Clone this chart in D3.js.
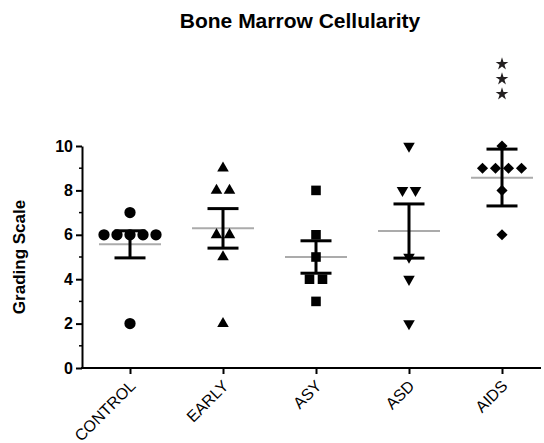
<!DOCTYPE html>
<html>
<head>
<meta charset="utf-8">
<script src="https://cdn.jsdelivr.net/npm/d3@7"></script>
<style>
  html, body { margin: 0; padding: 0; background: #fff; }
  svg { display: block; font-family: "Liberation Sans", Arial, sans-serif; }
</style>
</head>
<body>
<svg id="chart" width="544" height="443"></svg>
<script>
// ---- data ----
const categories = ["CONTROL", "EARLY", "ASY", "ASD", "AIDS"];
const controlValues = [7, 6, 6, 6, 6, 6, 2];
const earlyValues   = [9, 8, 8, 6, 6, 5, 2];
const asyValues     = [8, 6, 5, 4, 4, 3];
const asdValues     = [10, 8, 8, 5, 4, 2];
const aidsValues    = [10, 9, 9, 9, 9, 8, 6];
const groupMeans    = [5.57, 6.29, 5.00, 6.17, 8.57];
const errorLow      = [4.96, 5.40, 4.27, 4.95, 7.30];
const errorHigh     = [6.18, 7.18, 5.73, 7.39, 9.86];
const markerShapes  = ["circle", "triangle", "square", "triangleDown", "diamond"];
const yTickValues   = [0, 2, 4, 6, 8, 10];
const yMinorTicks   = [1, 3, 5, 7, 9];
const significance  = ["AIDS", 3];   // category, number of stars
const chartTitle    = "Bone Marrow Cellularity";
const yTitle        = "Grading Scale";

const groups = [controlValues, earlyValues, asyValues, asdValues, aidsValues];

// ---- layout ----
const svg = d3.select("#chart");
const y = d3.scaleLinear().domain([0, 10]).range([368, 146]);
const x = d3.scalePoint().domain(categories).range([130, 502]);
const axisLeftX = 82, axisRightX = 541;
const jitter = 13;

// title
svg.append("text")
  .attr("x", 300).attr("y", 28)
  .attr("text-anchor", "middle")
  .attr("font-size", 21).attr("font-weight", "bold")
  .attr("fill", "#000")
  .text(chartTitle);

// y axis title
svg.append("text")
  .attr("transform", `translate(25,${(y(0) + y(10)) / 2}) rotate(-90)`)
  .attr("text-anchor", "middle")
  .attr("font-size", 17).attr("font-weight", "bold")
  .text(yTitle);

// y axis
const yAxisG = svg.append("g")
  .attr("transform", `translate(${axisLeftX},0)`)
  .call(d3.axisLeft(y).tickValues(yTickValues).tickSize(6).tickSizeOuter(0).tickPadding(3));
yAxisG.select(".domain").attr("stroke", "#000").attr("stroke-width", 2);
yAxisG.selectAll(".tick line").attr("stroke", "#000").attr("stroke-width", 2);
yAxisG.selectAll(".tick text")
  .attr("font-size", 16).attr("font-weight", "bold")
  .attr("font-family", "'Liberation Sans', Arial, sans-serif").attr("fill", "#000");
yAxisG.selectAll(".minor").data(yMinorTicks).enter().append("line")
  .attr("class", "minor")
  .attr("x1", -3).attr("x2", 0)
  .attr("y1", d => y(d)).attr("y2", d => y(d))
  .attr("stroke", "#000").attr("stroke-width", 1.5);

// x axis
const xAxisG = svg.append("g")
  .attr("transform", `translate(0,${y(0)})`)
  .call(d3.axisBottom(x).tickSize(6).tickSizeOuter(0).tickPadding(8));
xAxisG.select(".domain")
  .attr("d", `M${axisLeftX - 1},0H${axisRightX}`)
  .attr("stroke", "#000").attr("stroke-width", 2);
xAxisG.selectAll(".tick line").attr("stroke", "#000").attr("stroke-width", 2);
xAxisG.selectAll(".tick text")
  .attr("font-size", 16)
  .attr("font-family", "'Liberation Sans', Arial, sans-serif").attr("fill", "#000")
  .attr("text-anchor", "end")
  .attr("dy", null)
  .attr("transform", "translate(6,19) rotate(-45)")
  .attr("y", 0).attr("x", 0);

// mean lines
svg.append("g").selectAll("line").data(categories).enter().append("line")
  .attr("x1", d => x(d) - 31).attr("x2", d => x(d) + 31)
  .attr("y1", (d, i) => y(groupMeans[i])).attr("y2", (d, i) => y(groupMeans[i]))
  .attr("stroke", "#ababab").attr("stroke-width", 2);

// error bars
const eb = svg.append("g");
categories.forEach((c, i) => {
  const cx = x(c);
  eb.append("line").attr("x1", cx).attr("x2", cx)
    .attr("y1", y(errorLow[i])).attr("y2", y(errorHigh[i]))
    .attr("stroke", "#000").attr("stroke-width", 3);
  [errorLow[i], errorHigh[i]].forEach(v => {
    eb.append("line").attr("x1", cx - 15.5).attr("x2", cx + 15.5)
      .attr("y1", y(v)).attr("y2", y(v))
      .attr("stroke", "#000").attr("stroke-width", 3);
  });
});

// points
const symbolFor = {
  circle: { type: d3.symbolCircle, size: 100, rot: 0 },
  triangle: { type: d3.symbolTriangle, size: 58, rot: 0 },
  square: { type: d3.symbolSquare, size: 92, rot: 0 },
  triangleDown: { type: d3.symbolTriangle, size: 58, rot: 180 },
  diamond: { type: d3.symbolSquare, size: 62, rot: 45 }
};
const pts = svg.append("g");
groups.forEach((vals, gi) => {
  const cat = categories[gi];
  const counts = d3.rollup(vals, v => v.length, d => d);
  const seen = new Map();
  const s = symbolFor[markerShapes[gi]];
  const path = d3.symbol().type(s.type).size(s.size)();
  vals.forEach(v => {
    const n = counts.get(v);
    const k = seen.get(v) || 0;
    seen.set(v, k + 1);
    const off = (k - (n - 1) / 2) * jitter;
    pts.append("path")
      .attr("d", path)
      .attr("transform", `translate(${x(cat) + off},${y(v)}) rotate(${s.rot})`)
      .attr("fill", "#000");
  });
});

// significance stars
const starPath = d3.symbol().type(d3.symbolStar).size(50)();
d3.range(significance[1]).forEach(k => {
  svg.append("path")
    .attr("d", starPath)
    .attr("transform", `translate(${x(significance[0])},${64 + k * 15})`)
    .attr("fill", "#231f20");
});
</script>
</body>
</html>
